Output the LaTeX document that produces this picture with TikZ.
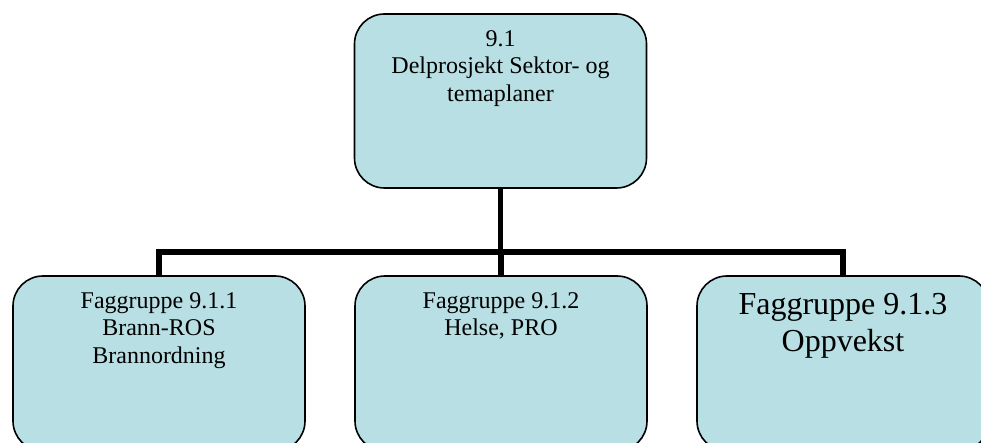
\documentclass[tikz,border=0pt]{standalone}
\usepackage{fontspec}
\setmainfont{Liberation Serif}
\definecolor{boxfill}{RGB}{184,223,227}
\begin{document}
\begin{tikzpicture}[x=1pt,y=1pt,
  orgbox/.style={draw=black, line width=1.6pt, fill=boxfill, rectangle, rounded corners=30pt,
    minimum width=292pt, minimum height=175pt, inner sep=0pt},
  boxtext/.style={anchor=north, inner sep=0pt, align=center, font=\fontsize{24}{27.5}\selectfont},
  bigtext/.style={anchor=north, inner sep=0pt, align=center, font=\fontsize{32}{36.5}\selectfont},
  conn/.style={draw=black, line width=5.5pt, line join=miter}]
\useasboundingbox (0,0) rectangle (981,443);
\clip (0,0) rectangle (981,443);
\node[orgbox, minimum height=174pt] (top) at (500.5,342) {};
\node[orgbox] (b1) at (159,79.5) {};
\node[orgbox] (b2) at (501,79.5) {};
\node[orgbox] (b3) at (843,79.5) {};
\coordinate (barc) at (500,191);
\draw[conn] (top.south) -- (top.south |- barc);
\draw[conn] (b1.north) -- (b1.north |- barc) -- (b3.north |- barc) -- (b3.north);
\draw[conn] (b2.north |- barc) -- (b2.north);
\node[boxtext] (t0) at ([yshift=-16.8pt]top.north) {9.1\\Delprosjekt Sektor- og\\temaplaner};
\node[boxtext] (t1) at ([yshift=-16.8pt]b1.north) {Faggruppe 9.1.1\\Brann-ROS\\Brannordning};
\node[boxtext] (t2) at ([yshift=-16.8pt]b2.north) {Faggruppe 9.1.2\\Helse, PRO};
\node[bigtext] (t3) at ([yshift=-18.4pt]b3.north) {Faggruppe 9.1.3\\Oppvekst};
\end{tikzpicture}
\end{document}
